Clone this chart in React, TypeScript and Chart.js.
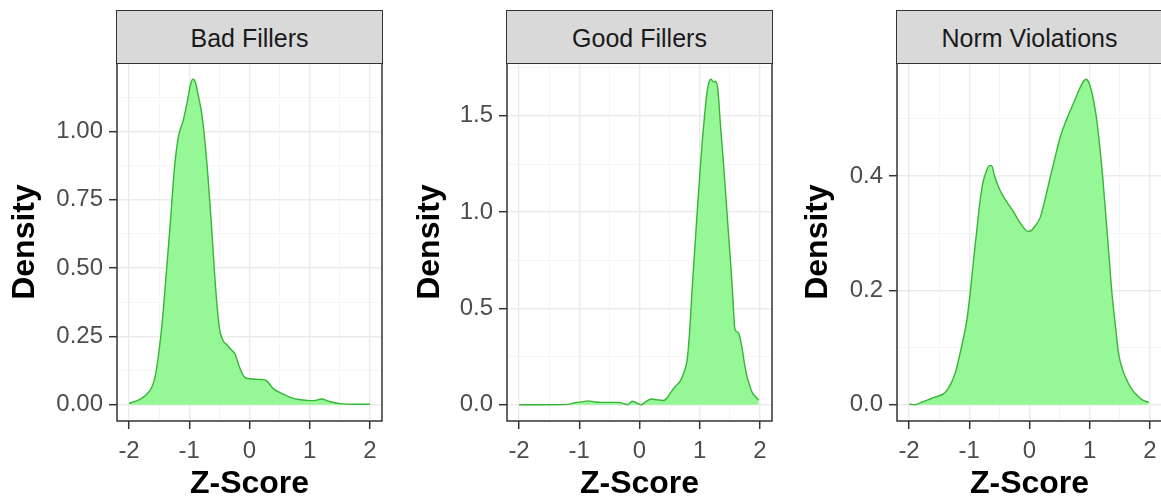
import React, { useEffect, useRef } from 'react';
import { Chart, registerables } from 'chart.js';

Chart.register(...registerables);

// ---------- data ----------
const panelTitles = ['Bad Fillers', 'Good Fillers', 'Norm Violations'];

const badX = [-2.0, -1.9, -1.8, -1.7, -1.62, -1.56, -1.5, -1.45, -1.4, -1.32, -1.24, -1.18, -1.1, -1.04, -0.98, -0.94, -0.9, -0.85, -0.79, -0.71, -0.63, -0.56, -0.5, -0.44, -0.38, -0.3, -0.24, -0.17, -0.08, 0.0, 0.1, 0.2, 0.28, 0.4, 0.55, 0.7, 0.85, 1.0, 1.1, 1.2, 1.3, 1.4, 1.55, 1.75, 2.0];
const badY = [0.005, 0.012, 0.022, 0.04, 0.065, 0.11, 0.2, 0.3, 0.43, 0.65, 0.88, 0.98, 1.04, 1.1, 1.17, 1.19, 1.18, 1.13, 1.06, 0.89, 0.65, 0.42, 0.28, 0.235, 0.22, 0.2, 0.185, 0.14, 0.1, 0.095, 0.093, 0.092, 0.088, 0.058, 0.04, 0.025, 0.018, 0.015, 0.016, 0.021, 0.014, 0.008, 0.003, 0.002, 0.002];

const goodX = [-2.0, -1.5, -1.2, -1.05, -0.95, -0.85, -0.75, -0.65, -0.5, -0.35, -0.25, -0.2, -0.12, -0.05, 0.03, 0.1, 0.2, 0.3, 0.4, 0.47, 0.54, 0.61, 0.68, 0.74, 0.79, 0.83, 0.87, 0.92, 0.96, 1.0, 1.04, 1.08, 1.12, 1.16, 1.19, 1.23, 1.26, 1.3, 1.345, 1.39, 1.43, 1.47, 1.51, 1.55, 1.58, 1.61, 1.65, 1.71, 1.75, 1.79, 1.83, 1.87, 1.93, 1.98];
const goodY = [0.0, 0.0, 0.002, 0.012, 0.015, 0.02, 0.015, 0.012, 0.012, 0.012, 0.005, 0.0, 0.018, 0.01, 0.0, 0.015, 0.03, 0.025, 0.022, 0.04, 0.073, 0.1, 0.125, 0.17, 0.23, 0.37, 0.58, 0.82, 1.01, 1.19, 1.36, 1.5, 1.62, 1.68, 1.69, 1.675, 1.68, 1.64, 1.45, 1.27, 1.1, 0.92, 0.75, 0.56, 0.4, 0.38, 0.37, 0.28, 0.2, 0.14, 0.1, 0.064, 0.04, 0.025];

const normX = [-2.0, -1.9, -1.8, -1.7, -1.55, -1.43, -1.36, -1.29, -1.22, -1.155, -1.1, -1.04, -0.98, -0.93, -0.87, -0.82, -0.77, -0.72, -0.67, -0.63, -0.58, -0.49, -0.38, -0.27, -0.18, -0.1, -0.03, 0.02, 0.09, 0.18, 0.26, 0.345, 0.43, 0.51, 0.62, 0.73, 0.83, 0.9, 0.94, 0.99, 1.04, 1.1, 1.15, 1.21, 1.26, 1.32, 1.37, 1.43, 1.48, 1.55, 1.62, 1.7, 1.79, 1.88, 1.98];
const normY = [0.001, 0.0, 0.004, 0.008, 0.014, 0.019, 0.027, 0.04, 0.06, 0.089, 0.115, 0.148, 0.2, 0.252, 0.31, 0.357, 0.39, 0.407, 0.418, 0.418, 0.4, 0.375, 0.355, 0.338, 0.322, 0.31, 0.303, 0.304, 0.312, 0.328, 0.36, 0.398, 0.435, 0.468, 0.5, 0.527, 0.552, 0.566, 0.569, 0.562, 0.544, 0.51, 0.468, 0.405, 0.34, 0.26, 0.194, 0.135, 0.089, 0.06, 0.042, 0.027, 0.016, 0.008, 0.004];

const xTicks = [-2, -1.5, -1, -0.5, 0, 0.5, 1, 1.5, 2];
const xMajor = [-2, -1, 0, 1, 2];

const badYTicks = [0, 0.125, 0.25, 0.375, 0.5, 0.625, 0.75, 0.875, 1, 1.125];
const badYMajor = [0, 0.25, 0.5, 0.75, 1];
const goodYTicks = [0, 0.25, 0.5, 0.75, 1, 1.25, 1.5, 1.75];
const goodYMajor = [0, 0.5, 1, 1.5];
const normYTicks = [0, 0.1, 0.2, 0.3, 0.4, 0.5];
const normYMajor = [0, 0.2, 0.4];

const panels = [
  { title: panelTitles[0], xs: badX, ys: badY, yTicks: badYTicks, yMajor: badYMajor, decimals: 2, titlePad: 9 },
  { title: panelTitles[1], xs: goodX, ys: goodY, yTicks: goodYTicks, yMajor: goodYMajor, decimals: 1, titlePad: 24 },
  { title: panelTitles[2], xs: normX, ys: normY, yTicks: normYTicks, yMajor: normYMajor, decimals: 1, titlePad: 22 },
];

// ---------- style ----------
const FONT = "'Liberation Sans', Arial, sans-serif";
const FILL = '#96F796';
const LINE = '#36B536';
const PANEL_W = 390;
const H = 503;

const isIn = (arr: number[], v: number) => arr.some((m) => Math.abs(m - v) < 1e-9);

const panelBorder = {
  id: 'panelBorder',
  afterDraw(chart: any) {
    const { ctx, chartArea } = chart;
    const { left, top, right, bottom } = chartArea;
    ctx.save();
    ctx.strokeStyle = '#333333';
    ctx.lineWidth = 1.5;
    ctx.strokeRect(left, top, right - left, bottom - top);
    ctx.restore();
  },
};

function Panel({ idx }: { idx: number }) {
  const ref = useRef<HTMLCanvasElement>(null);
  const p = panels[idx];

  useEffect(() => {
    if (!ref.current) return;
    const yMaxData = Math.max(...p.ys);
    const pad = yMaxData * 0.05;
    const chart = new Chart(ref.current, {
      type: 'line',
      data: {
        datasets: [
          {
            data: p.xs.map((x, i) => ({ x, y: p.ys[i] })),
            fill: 'origin',
            backgroundColor: FILL,
            borderColor: LINE,
            borderWidth: 1.4,
            pointRadius: 0,
            tension: 0.4,
            cubicInterpolationMode: 'monotone',
          } as any,
        ],
      },
      options: {
        responsive: false,
        animation: false,
        devicePixelRatio: 1,
        layout: { padding: { top: 63, right: 8, left: 0, bottom: 0 } },
        plugins: {
          legend: { display: false },
          tooltip: { enabled: false },
          title: { display: false },
        },
        scales: {
          x: {
            type: 'linear',
            min: -2.2,
            max: 2.2,
            afterBuildTicks: (s: any) => {
              s.ticks = xTicks.map((v) => ({ value: v }));
            },
            afterFit: (s: any) => {
              s.height = 82;
            },
            ticks: {
              autoSkip: false,
              maxRotation: 0,
              color: '#4D4D4D',
              font: { family: FONT, size: 24 },
              padding: 8,
              callback: (v: any) => (isIn(xMajor, Number(v)) ? String(v) : ''),
            },
            grid: {
              color: (c: any) => (isIn(xMajor, c.tick?.value) ? '#EBEBEB' : '#F3F3F3'),
              lineWidth: (c: any) => (isIn(xMajor, c.tick?.value) ? 1.4 : 0.8),
              tickColor: (c: any) => (isIn(xMajor, c.tick?.value) ? '#333333' : 'rgba(0,0,0,0)'),
              tickLength: 8,
              tickWidth: 1.5,
            },
            border: { display: false },
            title: {
              display: true,
              text: 'Z-Score',
              color: '#000000',
              font: { family: FONT, size: 32, weight: 'bold', lineHeight: 1 },
              padding: { top: 0, bottom: 3 },
            },
          },
          y: {
            type: 'linear',
            min: -pad,
            max: yMaxData + pad,
            afterBuildTicks: (s: any) => {
              s.ticks = p.yTicks.map((v) => ({ value: v }));
            },
            afterFit: (s: any) => {
              s.width = 117;
            },
            ticks: {
              autoSkip: false,
              color: '#4D4D4D',
              font: { family: FONT, size: 24 },
              padding: 6,
              callback: (v: any) => (isIn(p.yMajor, Number(v)) ? Number(v).toFixed(p.decimals) : ''),
            },
            grid: {
              color: (c: any) => (isIn(p.yMajor, c.tick?.value) ? '#EBEBEB' : '#F3F3F3'),
              lineWidth: (c: any) => (isIn(p.yMajor, c.tick?.value) ? 1.4 : 0.8),
              tickColor: (c: any) => (isIn(p.yMajor, c.tick?.value) ? '#333333' : 'rgba(0,0,0,0)'),
              tickLength: 8,
              tickWidth: 1.5,
            },
            border: { display: false },
            title: {
              display: true,
              text: 'Density',
              color: '#000000',
              font: { family: FONT, size: 32, weight: 'bold', lineHeight: 1 },
              padding: { top: p.titlePad, bottom: 0 },
            },
          },
        },
      } as any,
      plugins: [panelBorder],
    });
    return () => chart.destroy();
  }, []);

  return (
    <div style={{ position: 'absolute', left: idx * PANEL_W, top: 0, width: PANEL_W, height: H }}>
      <canvas ref={ref} width={PANEL_W} height={H} style={{ display: 'block', width: PANEL_W, height: H }} />
      <div
        style={{
          position: 'absolute',
          left: 116,
          top: 10,
          width: 267,
          height: 54,
          boxSizing: 'border-box',
          border: '1.5px solid #333333',
          background: '#D9D9D9',
          color: '#1A1A1A',
          fontFamily: FONT,
          fontSize: 25,
          display: 'flex',
          alignItems: 'center',
          justifyContent: 'center',
          paddingTop: 2,
        }}
      >
        {p.title}
      </div>
    </div>
  );
}

export default function App() {
  return (
    <div
      style={{
        position: 'fixed',
        left: 0,
        top: 0,
        width: 1161,
        height: H,
        overflow: 'hidden',
        background: '#FFFFFF',
      }}
    >
      {panels.map((_, i) => (
        <Panel key={i} idx={i} />
      ))}
    </div>
  );
}
